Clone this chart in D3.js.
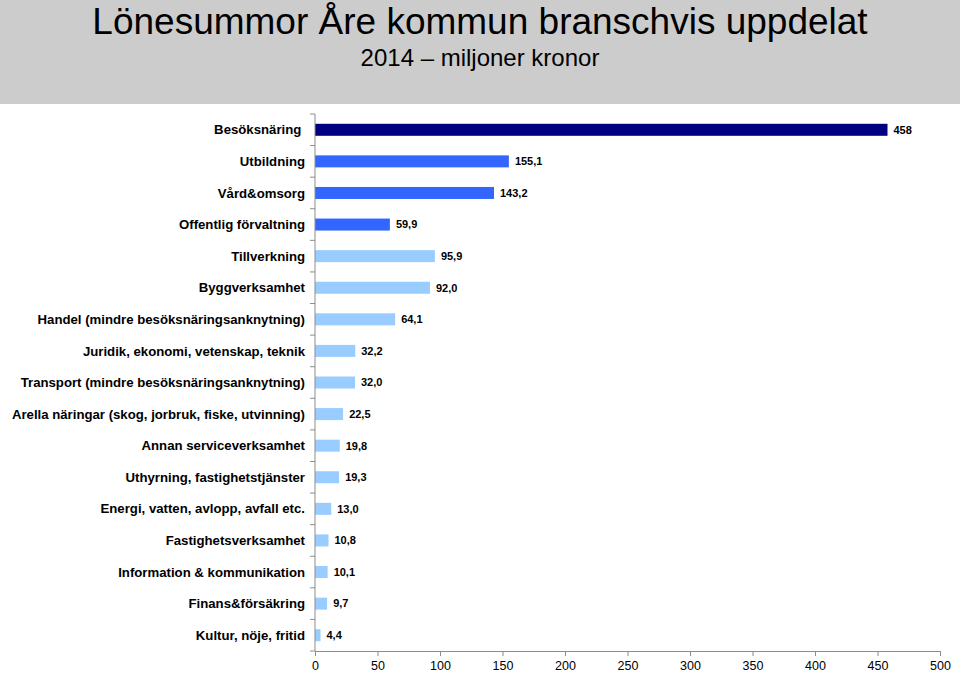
<!DOCTYPE html>
<html>
<head>
<meta charset="utf-8">
<script src="https://cdn.jsdelivr.net/npm/d3@7"></script>
<style>
  body { margin: 0; background: #fff; }
  svg { display: block; font-family: "Liberation Sans", Arial, sans-serif; }
</style>
</head>
<body>
<div id="chart"></div>
<script>
const categories = [
    "Besöksnäring ",
    "Utbildning",
    "Vård&omsorg",
    "Offentlig förvaltning",
    "Tillverkning",
    "Byggverksamhet",
    "Handel (mindre besöksnäringsanknytning)",
    "Juridik, ekonomi, vetenskap, teknik",
    "Transport (mindre besöksnäringsanknytning)",
    "Arella näringar (skog, jorbruk, fiske, utvinning)",
    "Annan serviceverksamhet",
    "Uthyrning, fastighetstjänster",
    "Energi, vatten, avlopp, avfall etc.",
    "Fastighetsverksamhet",
    "Information & kommunikation",
    "Finans&försäkring",
    "Kultur, nöje, fritid"
];
const values = [458, 155.1, 143.2, 59.9, 95.9, 92.0, 64.1, 32.2, 32.0, 22.5, 19.8, 19.3, 13.0, 10.8, 10.1, 9.7, 4.4];
const valueLabels = ["458", "155,1", "143,2", "59,9", "95,9", "92,0", "64,1", "32,2", "32,0", "22,5", "19,8", "19,3", "13,0", "10,8", "10,1", "9,7", "4,4"];
const groups = ["top", "public", "public", "public", "other", "other", "other", "other", "other", "other", "other", "other", "other", "other", "other", "other", "other"];
const xTicks = [0, 50, 100, 150, 200, 250, 300, 350, 400, 450, 500];

const width = 960, height = 673;
const margin = {top: 114, right: 20, bottom: 22, left: 315};

const color = d3.scaleOrdinal()
    .domain(["top", "public", "other"])
    .range(["#000080", "#3366ff", "#99ccff"]);

const svg = d3.select("#chart").append("svg")
    .attr("width", width)
    .attr("height", height);

// header band
svg.append("rect")
    .attr("x", 0).attr("y", 0)
    .attr("width", width).attr("height", 104)
    .attr("fill", "#cccccc");

svg.append("text")
    .attr("x", 480).attr("y", 34)
    .attr("text-anchor", "middle")
    .attr("font-size", 37)
    .attr("fill", "#000")
    .text("Lönesummor Åre kommun branschvis uppdelat");

svg.append("text")
    .attr("x", 480).attr("y", 66)
    .attr("text-anchor", "middle")
    .attr("font-size", 24)
    .attr("fill", "#000")
    .text("2014 – miljoner kronor");

const x = d3.scaleLinear()
    .domain([0, 500])
    .range([margin.left, margin.left + 625]);

const y = d3.scaleBand()
    .domain(categories)
    .range([margin.top, height - margin.bottom])
    .paddingInner(0.62)
    .paddingOuter(0.31);

// bars
svg.append("g")
    .selectAll("rect")
    .data(categories)
    .join("rect")
    .attr("x", x(0))
    .attr("y", d => y(d))
    .attr("width", (d, i) => x(values[i]) - x(0))
    .attr("height", y.bandwidth())
    .attr("fill", (d, i) => color(groups[i]));

// value labels
svg.append("g")
    .selectAll("text")
    .data(categories)
    .join("text")
    .attr("x", (d, i) => x(values[i]) + 6)
    .attr("y", d => y(d) + y.bandwidth() / 2)
    .attr("dy", "0.35em")
    .attr("font-size", 11)
    .attr("font-weight", "bold")
    .attr("fill", "#000")
    .text((d, i) => valueLabels[i]);

// y axis: line + ticks between bands
const yAxis = svg.append("g");
yAxis.append("line")
    .attr("x1", x(0)).attr("x2", x(0))
    .attr("y1", margin.top).attr("y2", height - margin.bottom)
    .attr("stroke", "#8c8c8c");
const bounds = d3.range(categories.length + 1).map(i => margin.top + i * (height - margin.top - margin.bottom) / categories.length);
yAxis.selectAll("line.tick")
    .data(bounds)
    .join("line")
    .attr("class", "tick")
    .attr("x1", x(0) - 5).attr("x2", x(0))
    .attr("y1", d => d).attr("y2", d => d)
    .attr("stroke", "#8c8c8c");
yAxis.selectAll("text")
    .data(categories)
    .join("text")
    .attr("x", x(0) - 10)
    .attr("y", d => y(d) + y.bandwidth() / 2)
    .attr("dy", "0.35em")
    .attr("text-anchor", "end")
    .attr("font-size", 13.2)
    .attr("font-weight", "bold")
    .attr("fill", "#000")
    .style("white-space", "pre")
    .text(d => d);

// x axis
const xAxis = svg.append("g")
    .attr("transform", `translate(0,${height - margin.bottom})`)
    .call(d3.axisBottom(x).tickValues(xTicks).tickSize(5).tickPadding(5).tickFormat(d3.format("d")));
xAxis.select(".domain").attr("stroke", "#8c8c8c");
xAxis.selectAll(".tick line").attr("stroke", "#8c8c8c");
xAxis.selectAll(".tick text")
    .attr("font-size", 12.5)
    .attr("font-family", "Liberation Sans, Arial, sans-serif")
    .attr("fill", "#000");
</script>
</body>
</html>
